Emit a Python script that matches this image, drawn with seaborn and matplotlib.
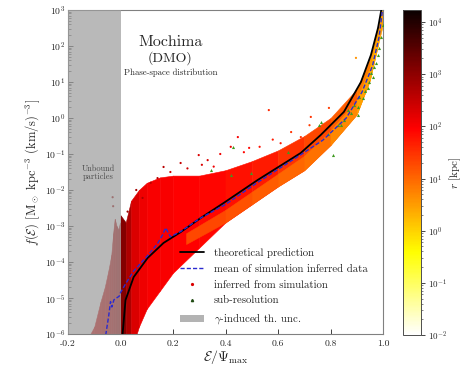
import numpy as np
import pandas as pd
import matplotlib
matplotlib.use("Agg")
import matplotlib.pyplot as plt
import seaborn as sns
from matplotlib.colors import LogNorm
from matplotlib.lines import Line2D
from matplotlib.patches import Patch
import matplotlib.ticker as mticker

# ---------------- data ----------------
# theoretical prediction: x = E/Psi_max, log10 f
theory_x = [0.002, 0.008, 0.019, 0.05, 0.103, 0.164, 0.229, 0.305, 0.393, 0.523,
            0.687, 0.763, 0.851, 0.916, 0.954, 0.981, 0.992, 1.0]
theory_logf = [-7.0, -6.0, -5.06, -4.42, -3.89, -3.47, -3.17, -2.78, -2.36, -1.72,
               -0.97, -0.47, 0.17, 1.0, 1.75, 2.5, 2.94, 3.3]

# mean of simulation inferred data
mean_x = [-0.06, -0.045, -0.038, -0.033, -0.025, -0.015, -0.005, 0.0, 0.02, 0.05, 0.1,
          0.14, 0.16, 0.172, 0.19, 0.23, 0.3, 0.4, 0.52, 0.68, 0.77, 0.86, 0.92,
          0.96, 0.985, 0.998]
mean_logf = [-6.2, -5.5, -5.1, -5.25, -5.05, -5.0, -4.95, -4.85, -4.6, -4.25, -3.85,
             -3.5, -3.25, -3.05, -3.3, -3.15, -2.8, -2.4, -1.8, -1.05, -0.62, 0.0,
             0.72, 1.45, 2.25, 3.0]

# envelope of the dense cloud of inferred points, with typical log10 r per segment
band_x = [0.0, 0.02, 0.04, 0.07, 0.1, 0.15, 0.2, 0.3, 0.4, 0.5, 0.6, 0.7, 0.8,
          0.9, 0.95, 0.98, 1.0]
band_up = [-2.7, -2.9, -2.3, -2.0, -1.8, -1.65, -1.6, -1.6, -1.45, -1.2, -0.9,
           -0.5, 0.0, 0.8, 1.65, 2.55, 3.2]
band_lo = [-6.5, -6.5, -6.5, -5.8, -5.3, -4.8, -4.3, -3.6, -2.9, -2.4, -1.9, -1.45,
           -0.75, 0.1, 1.05, 2.0, 2.6]
band_logr = [3.1, 2.7, 2.3, 2.1, 2.0, 2.0, 1.95, 1.9, 1.8, 1.7, 1.5, 1.3, 1.1,
             0.8, 0.6, 0.5]

# inner (lower) orange part of the cloud
inner_x = [0.25, 0.4, 0.5, 0.6, 0.7, 0.8, 0.9, 0.95, 0.98]
inner_up = [-3.2, -2.55, -2.05, -1.55, -1.05, -0.35, 0.5, 1.4, 2.3]
inner_lo = [-3.5, -2.9, -2.4, -1.9, -1.45, -0.75, 0.1, 1.05, 2.0]
inner_logr = [1.3, 1.2, 1.1, 1.0, 0.9, 0.7, 0.45, 0.35]

# unbound particles (E < 0), envelope
unb_x = [-0.13, -0.1, -0.076, -0.06, -0.045, -0.035, -0.028, -0.022, -0.015,
         -0.008, -0.002]
unb_up = [-6.2, -5.8, -5.1, -4.7, -4.2, -3.8, -3.2, -2.8, -3.0, -3.1, -2.9]
unb_logr = [2.4, 2.4, 2.5, 2.5, 2.6, 2.6, 2.7, 2.7, 2.8, 2.8]

# individual scattered inferred points
pts_x = [0.164, 0.229, 0.141, 0.084, 0.027, 0.115, -0.03, -0.028, 0.298, 0.332,
         0.255, 0.355, 0.897, 0.565, 0.725, 0.794, 0.447, 0.49, 0.53, 0.65, 0.687,
         0.42, 0.61, 0.06, 0.19, 0.38, 0.47, 0.58, 0.72, 0.31]
pts_logf = [-1.36, -1.25, -1.67, -2.22, -2.6, -1.8, -2.2, -2.45, -1.03, -1.17,
            -1.4, -1.35, 1.67, 0.22, 0.03, 0.28, -0.53, -0.83, -0.8, -0.39, -0.53,
            -0.8, -0.7, -2.0, -1.5, -1.0, -0.95, -0.6, -0.2, -1.3]
pts_logr = [2.6, 2.5, 2.6, 2.7, 2.9, 2.6, 2.9, 2.9, 2.3, 2.3,
            2.4, 2.1, 0.6, 1.6, 1.5, 1.4, 2.0, 1.9, 1.8, 1.5, 1.5,
            2.1, 1.7, 2.8, 2.4, 2.1, 1.9, 1.7, 1.4, 2.3]

# sub-resolution points
sub_x = [1.0, 0.992, 0.985, 0.973, 0.962, 0.943, 0.924, 0.905, 0.878, 0.851, 0.828,
         0.763, 0.966, 0.947, 0.908, 0.866, 0.905, 0.809, 0.756, 0.496, 0.42, 0.637,
         0.427, 0.344, 0.98, 0.955, 0.93, 0.89, 0.84, 0.79]
sub_logf = [2.58, 2.25, 1.94, 1.53, 1.14, 0.83, 0.56, 0.31, 0.14, -0.06, -0.19,
            -0.11, 1.42, 1.0, 0.58, 0.22, 0.08, -1.03, -0.19, -1.53, -1.58, -0.94,
            -0.8, -1.44, 1.75, 1.25, 0.75, 0.35, -0.2, -0.45]

# colour bar
r_min, r_max = 1e-2, 1.7e4
cbar_label = r"$r$ [kpc]"

legend_labels = ["theoretical prediction", "mean of simulation inferred data",
                 "inferred from simulation", "sub-resolution",
                 r"$\gamma$-induced th. unc."]

# ---------------- style ----------------
sns.set_style("ticks")
plt.rcParams["font.family"] = ["cmr10", "DejaVu Serif"]
plt.rcParams["mathtext.fontset"] = "cm"
plt.rcParams["axes.formatter.use_mathtext"] = True
plt.rcParams["axes.unicode_minus"] = True

fig = plt.figure(figsize=(4.61, 3.72), dpi=100)
ax = fig.add_axes([68 / 461, 1 - 334 / 372, (383 - 68) / 461, 324 / 372])
cax = fig.add_axes([403 / 461, 1 - 335 / 372, 18 / 461, 325 / 372])

cmap = plt.get_cmap("hot_r")
norm = LogNorm(vmin=r_min, vmax=r_max)

def rcol(lr):
    return cmap(norm(10 ** lr))

# dense cloud
for i in range(len(band_x) - 1):
    xs = band_x[i:i + 2]
    c = rcol(band_logr[i])
    ax.fill_between(xs, [10 ** v for v in band_lo[i:i + 2]],
                    [10 ** v for v in band_up[i:i + 2]], color=c, lw=0.4,
                    edgecolor=c, zorder=2)
for i in range(len(inner_x) - 1):
    xs = inner_x[i:i + 2]
    c = rcol(inner_logr[i])
    ax.fill_between(xs, [10 ** v for v in inner_lo[i:i + 2]],
                    [10 ** v for v in inner_up[i:i + 2]], color=c, lw=0.4,
                    edgecolor=c, zorder=2.1)
for i in range(len(unb_x) - 1):
    xs = unb_x[i:i + 2]
    c = rcol(unb_logr[i])
    ax.fill_between(xs, [1e-7, 1e-7], [10 ** v for v in unb_up[i:i + 2]],
                    color=c, lw=0.4, edgecolor=c, zorder=2)

df_pts = pd.DataFrame({"x": pts_x, "f": [10 ** v for v in pts_logf],
                       "c": [rcol(v) for v in pts_logr]})
sns.scatterplot(data=df_pts, x="x", y="f", ax=ax, c=df_pts["c"].tolist(), s=2.5,
                marker="o", linewidth=0, zorder=3, legend=False)
df_sub = pd.DataFrame({"x": sub_x, "f": [10 ** v for v in sub_logf]})
sns.scatterplot(data=df_sub, x="x", y="f", ax=ax, color="#3f9a22", s=5,
                marker="^", linewidth=0, zorder=3.5, legend=False)

# gamma-induced uncertainty / unbound region
ax.axvspan(-0.2, 0.0, color="0.62", alpha=0.72, lw=0, zorder=4)

df_th = pd.DataFrame({"x": theory_x, "f": [10 ** v for v in theory_logf]})
sns.lineplot(data=df_th, x="x", y="f", ax=ax, color="black", lw=1.3,
             sort=False, estimator=None, zorder=5)
df_mean = pd.DataFrame({"x": mean_x, "f": [10 ** v for v in mean_logf]})
sns.lineplot(data=df_mean, x="x", y="f", ax=ax, color="#2a2ad0", lw=1.0,
             linestyle=(0, (3, 1.5)), sort=False, estimator=None, zorder=6)

ax.set_yscale("log")
ax.set_xlim(-0.2, 1.0)
ax.set_ylim(1e-6, 1e3)
ax.yaxis.set_major_locator(mticker.LogLocator(base=10, numticks=20))
ax.yaxis.set_minor_locator(mticker.LogLocator(base=10, subs=np.arange(2, 10), numticks=20))
ax.yaxis.set_minor_formatter(mticker.NullFormatter())
ax.set_xticks([-0.2, 0.0, 0.2, 0.4, 0.6, 0.8, 1.0])
ax.xaxis.set_major_formatter(mticker.FormatStrFormatter("%.1f"))
ax.tick_params(axis="both", which="major", direction="in", length=3.5, width=0.7,
               labelsize=7, color="0.25")
ax.tick_params(axis="x", which="major", pad=4)
ax.tick_params(axis="y", which="major", pad=2)
ax.tick_params(axis="both", which="minor", direction="in", length=2, width=0.5,
               color="0.25")
for s in ax.spines.values():
    s.set_color("0.5")
    s.set_linewidth(0.8)
ax.set_xlabel(r"$\mathcal{E}/\Psi_{\rm max}$", fontsize=10, labelpad=0)
ax.set_ylabel(r"$f(\mathcal{E})$ [M$_\odot$ kpc$^{-3}$ (km/s)$^{-3}$]",
              fontsize=9, labelpad=2)

ax.text(0.19, 10 ** 2.11, "Mochima", ha="center", va="center", fontsize=11.5,
        zorder=7)
ax.text(0.19, 10 ** 1.67, "(DMO)", ha="center", va="center", fontsize=10, zorder=7)
ax.text(0.19, 10 ** 1.25, "Phase-space distribution", ha="center", va="center",
        fontsize=6.3, zorder=7)
ax.text(-0.084, 10 ** -1.53, "Unbound\nparticles", ha="center", va="center",
        fontsize=6, color="0.3", linespacing=1.0, zorder=7)

handles = [Line2D([], [], color="black", lw=1.3),
           Line2D([], [], color="#2a2ad0", lw=1.0, ls=(0, (3, 1.5))),
           Line2D([], [], color=rcol(2.3), marker="o", ms=1.3, ls="none"),
           Line2D([], [], color="#1f4a12", marker="^", ms=1.6, ls="none"),
           Patch(facecolor="0.7", edgecolor="none")]
ax.legend(handles, legend_labels, loc="lower left", bbox_to_anchor=(0.342, 0.01),
          frameon=False, fontsize=7.8, handlelength=2.2, labelspacing=0.58,
          handletextpad=0.9, borderaxespad=0.0, handleheight=0.6)

sm = plt.cm.ScalarMappable(norm=norm, cmap=cmap)
cb = fig.colorbar(sm, cax=cax)
cb.ax.tick_params(which="major", labelsize=6.5, length=3, width=0.6, pad=2)
cb.ax.tick_params(which="minor", length=1.5, width=0.4)
cb.outline.set_edgecolor("0.3")
cb.outline.set_linewidth(0.7)
cb.set_label(cbar_label, fontsize=8, labelpad=0)

fig.savefig("out.png", dpi=100)
